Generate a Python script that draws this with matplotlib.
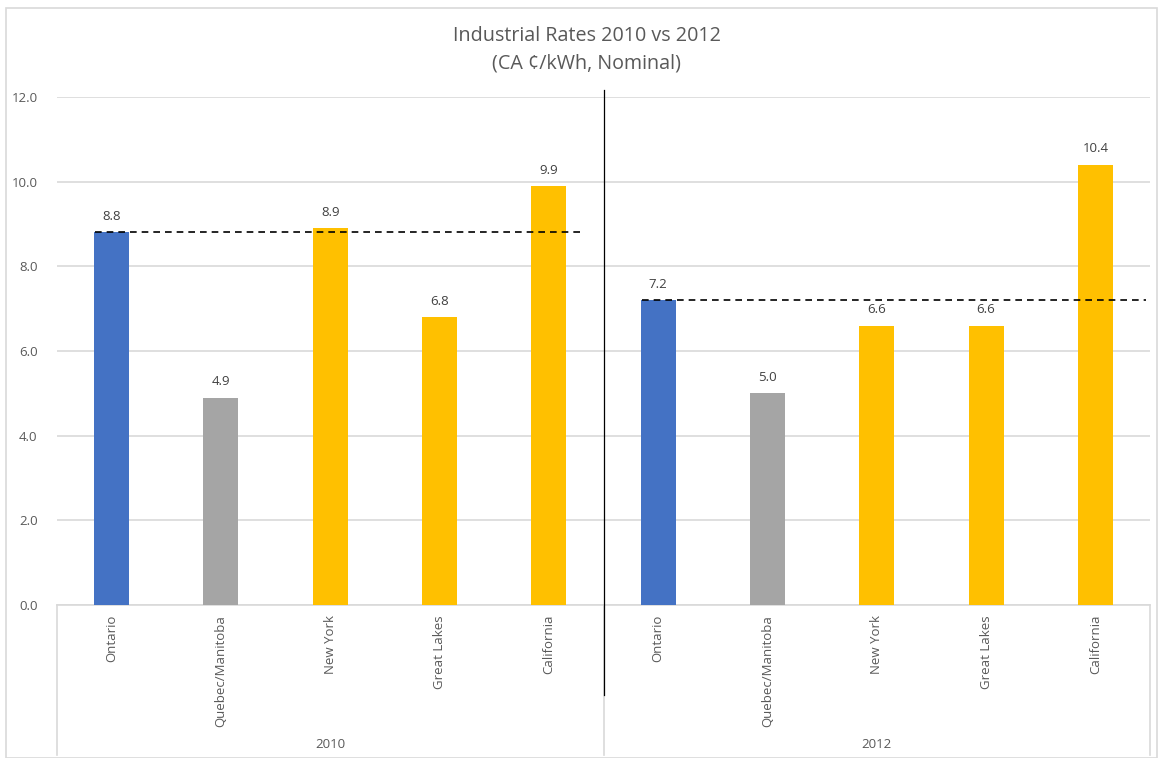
import matplotlib
matplotlib.use("Agg")
import matplotlib.pyplot as plt
from matplotlib.patches import Rectangle

plt.rcParams['font.family'] = ['Open Sans', 'DejaVu Sans']

years = ["2010", "2012"]
regions = ["Ontario", "Quebec/Manitoba", "New York", "Great Lakes", "California"]
rates_2010 = [8.8, 4.9, 8.9, 6.8, 9.9]
rates_2012 = [7.2, 5.0, 6.6, 6.6, 10.4]
region_colors = ["#4472C4", "#A5A5A5", "#FFC000", "#FFC000", "#FFC000"]
y_ticks = [0, 2, 4, 6, 8, 10, 12]

text_color = "#595959"
grid_color = "#D9D9D9"

W, H = 1159, 758
fig = plt.figure(figsize=(W / 100, H / 100), dpi=100)

# outer chart border
fig.patches.append(Rectangle((6 / W, 0), 1151 / W, 1 - 8 / H, transform=fig.transFigure,
                             fill=False, edgecolor=grid_color, linewidth=1.2))

left, right, bottom, top = 57, 1150, 605, 97
ax = fig.add_axes([left / W, 1 - bottom / H, (right - left) / W, (bottom - top) / H])

series = [rates_2010, rates_2012]
n = len(regions)
x_pos, heights, colors, labels = [], [], [], []
for g, vals in enumerate(series):
    for i, v in enumerate(vals):
        x_pos.append(g * n + i)
        heights.append(v)
        colors.append(region_colors[i])
        labels.append(regions[i])

bars = ax.bar(x_pos, heights, width=0.32, color=colors, zorder=3)
for b, v in zip(bars, heights):
    ax.text(b.get_x() + b.get_width() / 2, v + 0.22, f"{v:.1f}", ha="center", va="bottom",
            fontsize=9.5, color="#404040", zorder=4)

# Ontario reference line for each year
for g, vals in enumerate(series):
    x0 = g * n - 0.15
    x1 = g * n + n - 1 + (0.31 if g == 0 else 0.46)
    ax.plot([x0, x1], [vals[0], vals[0]], color="black", linestyle=(0, (4, 3)),
            linewidth=1.2, zorder=4)

ax.set_xlim(-0.5, 2 * n - 0.5)
ax.set_ylim(0, 12)
ax.set_yticks(y_ticks)
ax.set_yticklabels([f"{t:.1f}" for t in y_ticks], fontsize=9.5, color=text_color)
ax.tick_params(axis="y", length=0, pad=14)
ax.set_xticks([])
ax.yaxis.grid(True, color=grid_color, linewidth=1.2, zorder=0)
for s in ["top", "right", "left"]:
    ax.spines[s].set_visible(False)
ax.spines["bottom"].set_color(grid_color)
ax.spines["bottom"].set_linewidth(1.2)

px = 12 / (bottom - top)  # data units per pixel (vertical)

# divider between years
ax.plot([n - 0.5, n - 0.5], [12 + 7 * px, -90 * px], color="black", linewidth=0.9,
        clip_on=False, zorder=5)

# group separators of the category axis
for xs in [-0.5, n - 0.5, 2 * n - 0.5]:
    ax.plot([xs, xs], [0, -150 * px], color=grid_color, linewidth=1.2, clip_on=False, zorder=1)

for x, lab in zip(x_pos, labels):
    ax.text(x, -10 * px, lab, rotation=90, ha="center", va="top", fontsize=9.5,
            color=text_color, clip_on=False)
for g, yr in enumerate(years):
    ax.text(g * n + (n - 1) / 2, -140 * px, yr, ha="center", va="center", fontsize=9.5,
            color=text_color, clip_on=False)

fig.text(587 / W, 1 - 36 / H, "Industrial Rates 2010 vs 2012", ha="center", va="center",
         fontsize=14.2, color=text_color)
fig.text(587 / W, 1 - 63 / H, "(CA ¢/kWh, Nominal)", ha="center", va="center",
         fontsize=14.2, color=text_color)

fig.savefig("out.png", dpi=100)
